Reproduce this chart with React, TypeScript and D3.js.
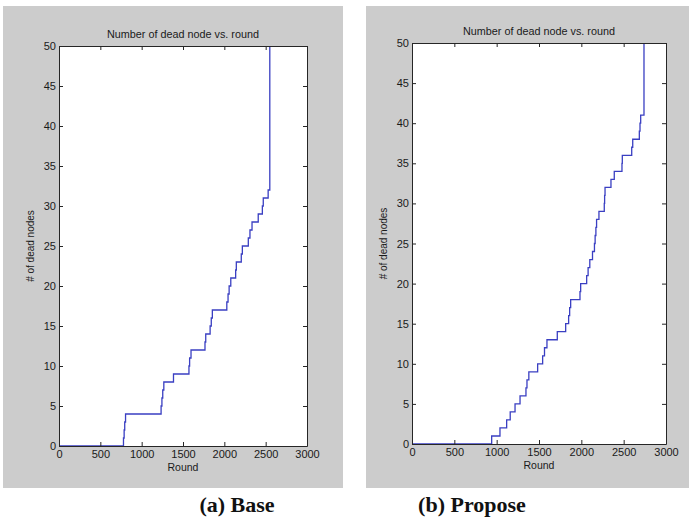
import React, { useRef, useEffect } from 'react';
import * as d3 from 'd3';

// rounds at which the dead-node count steps up, and the count after each step
const baseRounds = [0, 780, 788, 795, 805, 1235, 1245, 1255, 1268, 1385, 1572, 1580, 1597, 1766, 1775, 1828, 1842, 1855, 2030, 2045, 2058, 2078, 2137, 2145, 2205, 2218, 2290, 2310, 2335, 2410, 2460, 2471, 2530, 2550];
const baseDead = [0, 1, 2, 3, 4, 5, 6, 7, 8, 9, 10, 11, 12, 13, 14, 15, 16, 17, 18, 19, 20, 21, 22, 23, 24, 25, 26, 27, 28, 29, 30, 31, 32, 50];

const proposeRounds = [0, 941, 1039, 1118, 1160, 1217, 1276, 1346, 1358, 1380, 1484, 1543, 1565, 1594, 1716, 1815, 1850, 1862, 1874, 1984, 1992, 2063, 2080, 2100, 2132, 2155, 2163, 2172, 2180, 2208, 2271, 2275, 2280, 2350, 2389, 2480, 2484, 2595, 2607, 2685, 2693, 2701, 2740];
const proposeDead = [0, 1, 2, 3, 4, 5, 6, 7, 8, 9, 10, 11, 12, 13, 14, 15, 16, 17, 18, 19, 20, 21, 22, 23, 24, 25, 26, 27, 28, 29, 30, 31, 32, 33, 34, 35, 36, 37, 38, 39, 40, 41, 50];

const roundTicks = [0, 500, 1000, 1500, 2000, 2500, 3000];
const deadTicks = [0, 5, 10, 15, 20, 25, 30, 35, 40, 45, 50];

const chartTitle = 'Number of dead node vs. round';
const xTitle = 'Round';
const yTitle = '# of dead nodes';

const FONT = '"Liberation Sans", Arial, sans-serif';

const Panel = ({ rounds, dead, frame, plot, caption }) => {
  const gRef = useRef();

  useEffect(() => {
    const g = d3.select(gRef.current);
    g.selectAll('*').remove();

    const x = d3.scaleLinear().domain([0, 3000]).range([plot.left, plot.right]);
    const y = d3.scaleLinear().domain([0, 50]).range([plot.bottom, plot.top]);
    const fmt = d3.format('d');

    // grey figure background
    g.append('rect')
      .attr('x', frame.left).attr('y', frame.top)
      .attr('width', frame.right - frame.left).attr('height', frame.bottom - frame.top)
      .attr('fill', '#cccccc');

    g.append('rect')
      .attr('x', plot.left).attr('y', plot.top)
      .attr('width', plot.right - plot.left).attr('height', plot.bottom - plot.top)
      .attr('fill', '#ffffff');

    const line = d3.line()
      .x(d => x(d[0]))
      .y(d => y(d[1]))
      .curve(d3.curveStepAfter);

    g.append('path')
      .datum(rounds.map((r, i) => [r, dead[i]]))
      .attr('fill', 'none')
      .attr('stroke', '#3a3fc2')
      .attr('stroke-width', 1.3)
      .attr('d', line);

    const style = sel => {
      sel.attr('font-family', FONT).attr('font-size', 11);
      sel.selectAll('path, line').attr('stroke', '#262626');
      sel.selectAll('text').attr('fill', '#1a1a1a');
    };

    g.append('g').attr('transform', `translate(0,${plot.bottom})`)
      .call(d3.axisBottom(x).tickValues(roundTicks).tickFormat(fmt).tickSize(-4).tickSizeOuter(0).tickPadding(4))
      .call(style);
    g.append('g').attr('transform', `translate(0,${plot.top})`)
      .call(d3.axisTop(x).tickValues(roundTicks).tickSize(-4).tickSizeOuter(0).tickFormat(() => ''))
      .call(style);
    g.append('g').attr('transform', `translate(${plot.left},0)`)
      .call(d3.axisLeft(y).tickValues(deadTicks).tickFormat(fmt).tickSize(-4).tickSizeOuter(0).tickPadding(3))
      .call(style);
    g.append('g').attr('transform', `translate(${plot.right},0)`)
      .call(d3.axisRight(y).tickValues(deadTicks).tickSize(-4).tickSizeOuter(0).tickFormat(() => ''))
      .call(style);

    const cx = (plot.left + plot.right) / 2;
    g.append('text')
      .attr('x', cx).attr('y', plot.top - 8)
      .attr('text-anchor', 'middle')
      .attr('font-family', FONT).attr('font-size', 10.8).attr('fill', '#1a1a1a')
      .text(chartTitle);

    g.append('text')
      .attr('x', cx).attr('y', plot.bottom + 25)
      .attr('text-anchor', 'middle')
      .attr('font-family', FONT).attr('font-size', 10.5).attr('fill', '#1a1a1a')
      .text(xTitle);

    g.append('text')
      .attr('transform', `translate(${plot.left - 25},${(plot.top + plot.bottom) / 2}) rotate(-90)`)
      .attr('text-anchor', 'middle')
      .attr('font-family', FONT).attr('font-size', 10).attr('fill', '#1a1a1a')
      .text(yTitle);

    g.append('text')
      .attr('x', caption.x).attr('y', caption.y)
      .attr('text-anchor', 'middle')
      .attr('font-family', '"Liberation Serif", "Times New Roman", serif')
      .attr('font-weight', 'bold').attr('font-size', 22).attr('fill', '#111')
      .text(caption.text);
  }, [rounds, dead]);

  return <g ref={gRef} />;
};

export default function App() {
  return (
    <svg width={690} height={520} style={{ position: 'absolute', left: 0, top: 0, background: '#fff' }}>
      <Panel
        rounds={baseRounds}
        dead={baseDead}
        frame={{ left: 3, right: 343, top: 6, bottom: 488 }}
        plot={{ left: 59, right: 307, top: 46, bottom: 446 }}
        caption={{ x: 237, y: 512, text: '(a) Base' }}
      />
      <Panel
        rounds={proposeRounds}
        dead={proposeDead}
        frame={{ left: 366, right: 689, top: 6, bottom: 488 }}
        plot={{ left: 412, right: 666, top: 43, bottom: 444 }}
        caption={{ x: 472, y: 512, text: '(b) Propose' }}
      />
    </svg>
  );
}
